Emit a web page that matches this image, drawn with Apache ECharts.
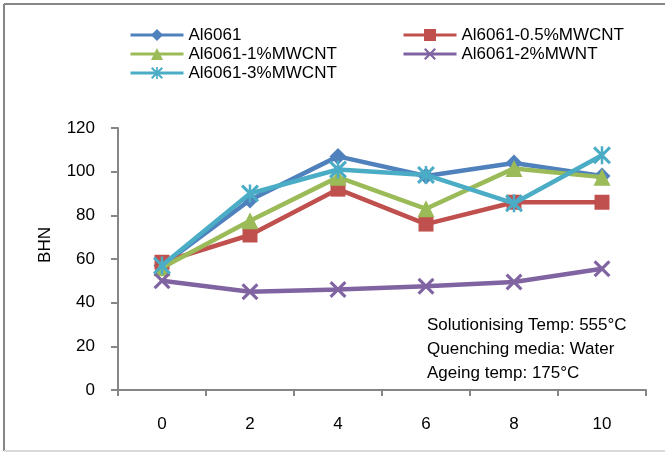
<!DOCTYPE html>
<html>
<head>
<meta charset="utf-8">
<script src="https://cdn.jsdelivr.net/npm/echarts@6/dist/echarts.min.js"></script>
<style>html,body{margin:0;padding:0;background:#fff;}#c{width:665px;height:455px;}</style>
</head>
<body>
<div id="c"></div>
<script>
var categories = ['0', '2', '4', '6', '8', '10'];
var seriesNames = ['Al6061', 'Al6061-0.5%MWCNT', 'Al6061-1%MWCNT', 'Al6061-2%MWNT', 'Al6061-3%MWCNT'];
var al6061 = [57, 87, 107, 98, 104, 98];
var mwcnt05 = [58.5, 71, 92, 76, 86, 86];
var mwcnt1 = [56, 77.5, 97.5, 83, 101.5, 97.5];
var mwnt2 = [50, 45, 46, 47.5, 49.5, 55.5];
var mwcnt3 = [57, 90, 101, 98.5, 85.5, 107.5];
var yTicks = [0, 20, 40, 60, 80, 100, 120];
var notes = ['Solutionising Temp: 555°C', 'Quenching media: Water', 'Ageing temp: 175°C'];

var colors = ['#4F81BD', '#C0504D', '#9BBB59', '#8064A2', '#4BACC6'];
var xPath = 'path://M0,1.3 L1.3,0 L5,3.7 L8.7,0 L10,1.3 L6.3,5 L10,8.7 L8.7,10 L5,6.3 L1.3,10 L0,8.7 L3.7,5 Z';
var starPath = 'path://M0,1.2 L1.2,0 L5,3.8 L8.8,0 L10,1.2 L6.2,5 L10,8.8 L8.8,10 L5,6.2 L1.2,10 L0,8.8 L3.8,5 Z M4.3,0 L5.7,0 L5.7,10 L4.3,10 Z';
var symbols = ['diamond', 'rect', 'triangle', xPath, starPath];
var symbolSizes = [17, 15, 17, 17, 18];
var dataArr = [al6061, mwcnt05, mwcnt1, mwnt2, mwcnt3];

var FONT = 'Liberation Sans, Arial, sans-serif';
var series = dataArr.map(function (d, i) {
  return {
    name: seriesNames[i],
    type: 'line',
    data: d,
    symbol: symbols[i],
    symbolSize: symbolSizes[i],
    showAllSymbol: true,
    lineStyle: { color: colors[i], width: 4.5 },
    itemStyle: { color: colors[i] },
    emphasis: { disabled: true },
    z: 2 + i
  };
});

var chart = echarts.init(document.getElementById('c'), null, { renderer: 'canvas' });
var legendCommon = {
  orient: 'vertical',
  itemWidth: 53,
  itemHeight: 15,
  itemGap: 0,
  top: 20.5,
  selectedMode: false,
  lineStyle: { width: 3 },
  textStyle: { fontFamily: FONT, fontSize: 17, color: '#000', lineHeight: 19 }
};
chart.setOption({
  animation: false,
  color: colors,
  legend: [
    Object.assign({}, legendCommon, { left: 124, data: [seriesNames[0], seriesNames[2], seriesNames[4]] }),
    Object.assign({}, legendCommon, { left: 397, data: [seriesNames[1], seriesNames[3]] })
  ],
  grid: { left: 118, right: 19, top: 128, bottom: 65 },
  xAxis: {
    type: 'category',
    data: categories,
    boundaryGap: true,
    axisLine: { lineStyle: { color: '#868686', width: 2 } },
    axisTick: { show: true, length: 6, lineStyle: { color: '#868686', width: 2 } },
    axisLabel: { fontFamily: FONT, fontSize: 17, color: '#000', margin: 26 }
  },
  yAxis: {
    type: 'value',
    min: yTicks[0],
    max: yTicks[yTicks.length - 1],
    interval: 20,
    axisLine: { show: true, lineStyle: { color: '#868686', width: 2 } },
    axisTick: { show: true, length: 7, lineStyle: { color: '#868686', width: 2 } },
    splitLine: { show: false },
    axisLabel: { fontFamily: FONT, fontSize: 17, color: '#000', margin: 23 }
  },
  graphic: [
    { type: 'line', shape: { x1: 4, y1: 4, x2: 665, y2: 4 }, style: { stroke: '#868686', lineWidth: 2 } },
    { type: 'line', shape: { x1: 4, y1: 4, x2: 4, y2: 451 }, style: { stroke: '#868686', lineWidth: 2 } },
    { type: 'line', shape: { x1: 4, y1: 451, x2: 665, y2: 451 }, style: { stroke: '#d9d9d9', lineWidth: 2 } },
    { type: 'text', x: 45, y: 245, rotation: Math.PI / 2,
      style: { text: 'BHN', fontFamily: FONT, fontSize: 17, fill: '#000', align: 'center', verticalAlign: 'middle' } },
    { type: 'text', left: 427, top: 313,
      style: { text: notes.join('\n'), fontFamily: FONT, fontSize: 17, lineHeight: 24, fill: '#000' } }
  ],
  series: series
});
</script>
</body>
</html>
